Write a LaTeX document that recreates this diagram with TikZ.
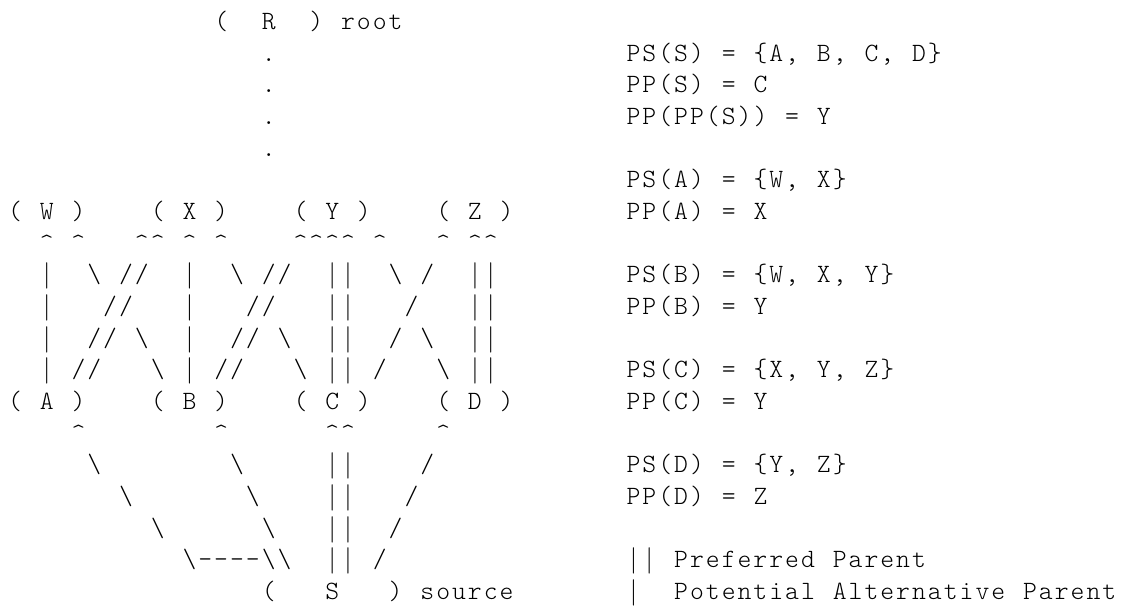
\documentclass[tikz,border=0pt]{standalone}
\usepackage{tikz}
\newlength\cw
\setlength\cw{7.93pt}
\newcommand\bsl{\textbackslash}
\newcommand\crt{\textasciicircum}
\def\cells#1{\ifx#1\relax\else\makebox[\cw]{\ifx#1|\rmfamily\fi#1}\expandafter\cells\fi}

\begin{document}
\begin{tikzpicture}[x = \cw, y = 15.835pt,
  txt/.style = {anchor = base west, inner sep = 0pt, outer sep = 0pt,
    font = \fontsize{13.2}{15.8}\ttfamily\fontseries{l}\selectfont}]
\useasboundingbox (-3.535pt,14.7pt) rectangle (557.465pt,-287.8pt);
\node[txt] (root) at (13,0) {\cells(~~R~~)~root\relax};
\foreach \r in {1,...,4}
  \node[txt] (dot\r) at (16,-\r) {\cells.\relax};
\node[txt] (upper) at (0,-6) {\cells(~W~)~~~~(~X~)~~~~(~Y~)~~~~(~Z~)\relax};
\node[txt] (tips1) at (2,-7) {\cells\crt~\crt~~~\crt\crt~\crt~\crt~~~~\crt\crt\crt\crt~\crt~~~\crt~\crt\crt\relax};
\node[txt] (e1) at (2,-8) {\cells|~~\bsl~//~~|~~\bsl~//~~||~~\bsl~/~~||\relax};
\node[txt] (e2) at (2,-9) {\cells|~~~//~~~|~~~//~~~||~~~/~~~||\relax};
\node[txt] (e3) at (2,-10) {\cells|~~//~\bsl~~|~~//~\bsl~~||~~/~\bsl~~||\relax};
\node[txt] (e4) at (2,-11) {\cells|~//~~~\bsl~|~//~~~\bsl~||~/~~~\bsl~||\relax};
\node[txt] (lower) at (0,-12) {\cells(~A~)~~~~(~B~)~~~~(~C~)~~~~(~D~)\relax};
\node[txt] (tips2) at (4,-13) {\cells\crt~~~~~~~~\crt~~~~~~\crt\crt~~~~~\crt\relax};
\node[txt] (f1) at (5,-14) {\cells\bsl~~~~~~~~\bsl~~~~~||~~~~/\relax};
\node[txt] (f2) at (7,-15) {\cells\bsl~~~~~~~\bsl~~~~||~~~/\relax};
\node[txt] (f3) at (9,-16) {\cells\bsl~~~~~~\bsl~~~||~~/\relax};
\node[txt] (f4) at (11,-17) {\cells\bsl----\bsl\bsl~~||~/\relax};
\node[txt] (source) at (16,-18) {\cells(~~~S~~~)~source\relax};
\node[txt] (psS) at (39,-1) {\cells PS(S)~=~\{A,~B,~C,~D\}\relax};
\node[txt] (ppS) at (39,-2) {\cells PP(S)~=~C\relax};
\node[txt] (ppppS) at (39,-3) {\cells PP(PP(S))~=~Y\relax};
\node[txt] (psA) at (39,-5) {\cells PS(A)~=~\{W,~X\}\relax};
\node[txt] (ppA) at (39,-6) {\cells PP(A)~=~X\relax};
\node[txt] (psB) at (39,-8) {\cells PS(B)~=~\{W,~X,~Y\}\relax};
\node[txt] (ppB) at (39,-9) {\cells PP(B)~=~Y\relax};
\node[txt] (psC) at (39,-11) {\cells PS(C)~=~\{X,~Y,~Z\}\relax};
\node[txt] (ppC) at (39,-12) {\cells PP(C)~=~Y\relax};
\node[txt] (psD) at (39,-14) {\cells PS(D)~=~\{Y,~Z\}\relax};
\node[txt] (ppD) at (39,-15) {\cells PP(D)~=~Z\relax};
\node[txt] (pref) at (39,-17) {\cells||~Preferred~Parent\relax};
\node[txt] (alt) at (39,-18) {\cells|~~Potential~Alternative~Parent\relax};
\end{tikzpicture}
\end{document}
